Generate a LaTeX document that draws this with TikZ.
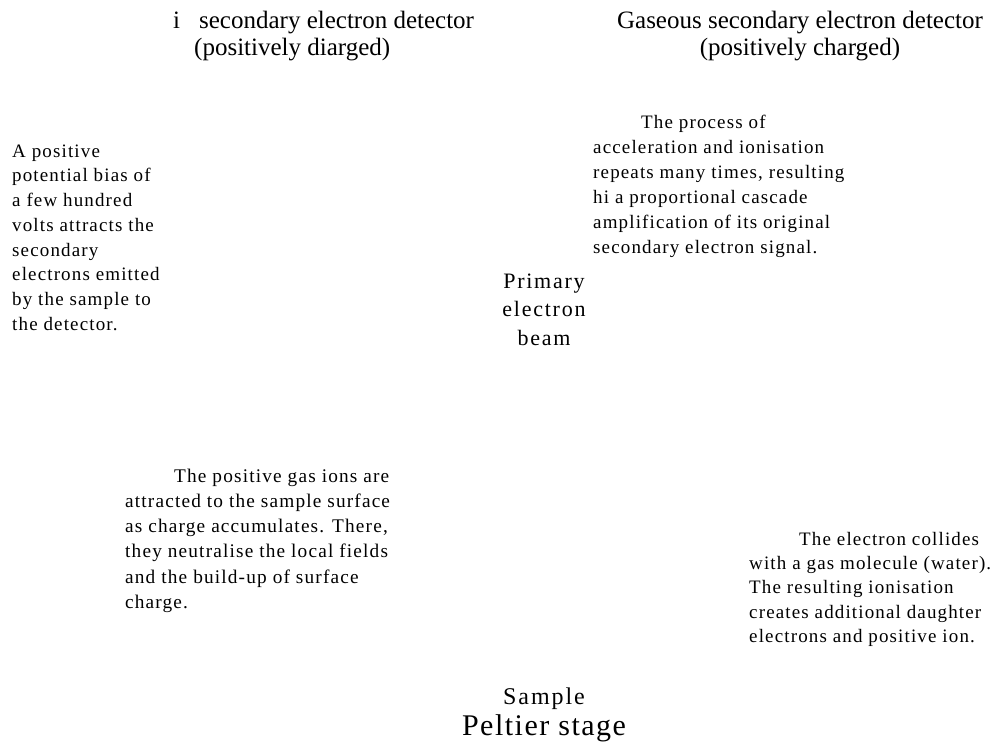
\documentclass[tikz,border=0pt]{standalone}
\usepackage{fontspec}
\setmainfont{Liberation Serif}
\newfontfamily\trk[LetterSpace=6]{Liberation Serif}
\newfontfamily\trkm[LetterSpace=8]{Liberation Serif}
\newfontfamily\trkp[LetterSpace=5]{Liberation Serif}
\newcommand{\toprule}[1]{\rule{0pt}{#1}}
\begin{document}
\begin{tikzpicture}[x=1pt,y=-1pt,
  hdr/.style={inner sep=0pt, font=\fontsize{25}{27}\selectfont},
  note/.style={inner sep=0pt, align=left, font=\trk\fontsize{19}{24.7}\selectfont},
  beam/.style={inner sep=0pt, align=center, font=\trkm\fontsize{22}{28.5}\selectfont}]
\path[use as bounding box] (0,0) rectangle (995,747);
\node[hdr, align=left, anchor=north west] (det) at (173,9)
  {\toprule{19pt}i\hspace{19pt}secondary electron detector\\\hspace*{21pt}(positively diarged)};
\node[hdr, align=center, anchor=north] (gsed) at (800,9)
  {\toprule{19pt}Gaseous secondary electron detector\\(positively charged)};
\node[note, anchor=north west] (bias) at (12,142)
  {\toprule{15pt}A positive\\potential bias of\\a few hundred\\volts attracts the\\secondary\\electrons emitted\\by the sample to\\the detector.};
\node[note, font=\trk\fontsize{19}{25}\selectfont, anchor=north west] (casc) at (593,113)
  {\toprule{15pt}\hspace*{48pt}The process of\\acceleration and ionisation\\repeats many times, resulting\\hi a proportional cascade\\amplification of its original\\secondary electron signal.};
\node[beam, anchor=north] (prim) at (544,270)
  {\toprule{18pt}Primary\\electron\\beam};
\node[note, font=\trk\fontsize{19.3}{25.2}\selectfont, anchor=north west] (ions) at (125,467)
  {\toprule{15pt}\hspace*{49pt}The positive gas ions are\\attracted to the sample surface\\as charge accumulates. There,\\they neutralise the local fields\\and the build-up of surface\\charge.};
\node[note, font=\trk\fontsize{19}{24.3}\selectfont, anchor=north west] (coll) at (749,530)
  {\toprule{15pt}\hspace*{50pt}The electron collides\\with a gas molecule (water).\\The resulting ionisation\\creates additional daughter\\electrons and positive ion.};
\node[inner sep=0pt, anchor=north, font=\trkm\fontsize{24}{26}\selectfont] (samp) at (544,685)
  {\toprule{19pt}Sample};
\node[inner sep=0pt, anchor=north, font=\trkp\fontsize{30}{32}\selectfont] (pelt) at (544,712)
  {\toprule{23pt}Peltier stage};
\end{tikzpicture}
\end{document}
